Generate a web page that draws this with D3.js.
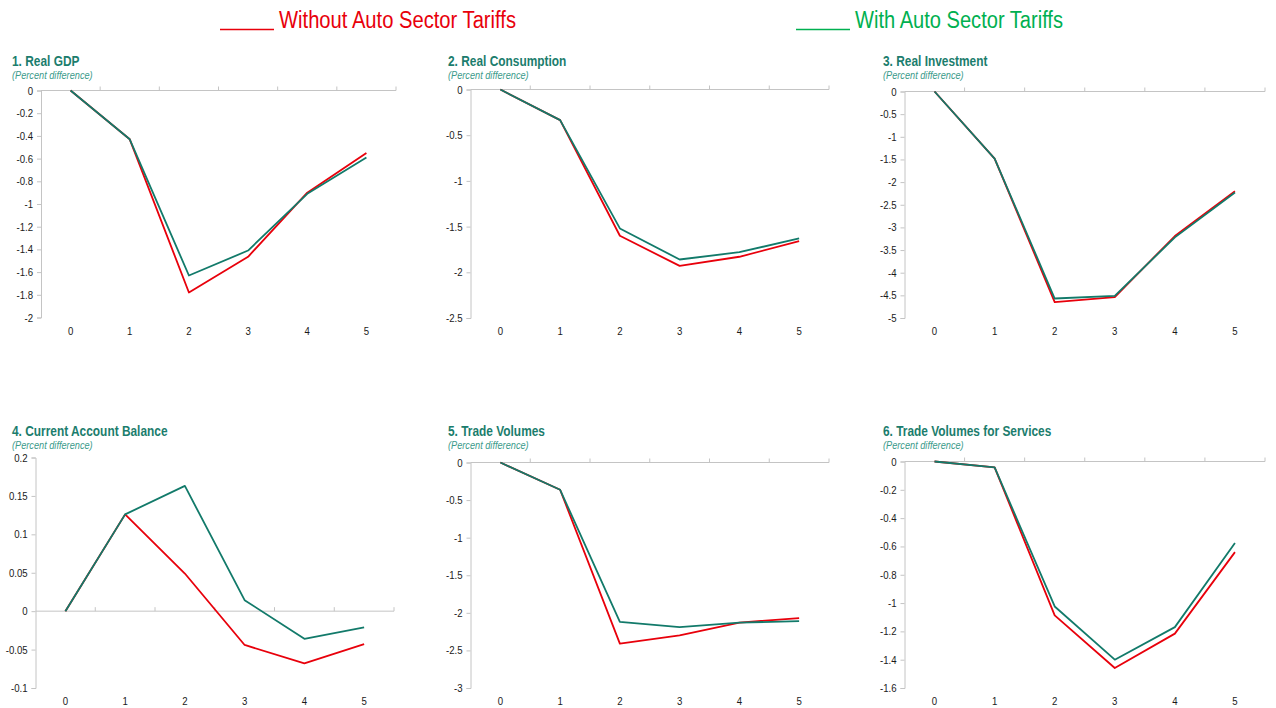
<!DOCTYPE html>
<html><head><meta charset="utf-8">
<script src="https://cdn.jsdelivr.net/npm/d3@7"></script>
<style>
body{margin:0;background:#fff;}
svg{display:block;}
text{font-family:"Liberation Sans",Arial,sans-serif;}
</style></head><body>
<svg id="chart" width="1276" height="708"></svg>
<script>
const periods = [0, 1, 2, 3, 4, 5];
const seriesNames = ["Without Auto Sector Tariffs", "With Auto Sector Tariffs"];
const panelTitles = ["1. Real GDP", "2. Real Consumption", "3. Real Investment",
  "4. Current Account Balance", "5. Trade Volumes", "6. Trade Volumes for Services"];
const subtitle = "(Percent difference)";

const gdpWithout = [0, -0.43, -1.78, -1.465, -0.90, -0.55];
const gdpWith = [0, -0.43, -1.63, -1.41, -0.91, -0.59];
const consWithout = [0, -0.335, -1.60, -1.93, -1.83, -1.66];
const consWith = [0, -0.335, -1.52, -1.86, -1.78, -1.63];
const invWithout = [0, -1.48, -4.65, -4.54, -3.19, -2.20];
const invWith = [0, -1.48, -4.57, -4.51, -3.22, -2.23];
const cabWithout = [0, 0.126, 0.049, -0.044, -0.068, -0.043];
const cabWith = [0, 0.126, 0.163, 0.0143, -0.036, -0.021];
const tradeWithout = [0, -0.363, -2.41, -2.30, -2.13, -2.07];
const tradeWith = [0, -0.363, -2.12, -2.19, -2.13, -2.11];
const servWithout = [0, -0.042, -1.087, -1.459, -1.216, -0.64];
const servWith = [0, -0.042, -1.024, -1.40, -1.17, -0.576];

const gdpTicks = [0, -0.2, -0.4, -0.6, -0.8, -1, -1.2, -1.4, -1.6, -1.8, -2];
const consTicks = [0, -0.5, -1, -1.5, -2, -2.5];
const invTicks = [0, -0.5, -1, -1.5, -2, -2.5, -3, -3.5, -4, -4.5, -5];
const cabTicks = [0.2, 0.15, 0.1, 0.05, 0, -0.05, -0.1];
const tradeTicks = [0, -0.5, -1, -1.5, -2, -2.5, -3];
const servTicks = [0, -0.2, -0.4, -0.6, -0.8, -1, -1.2, -1.4, -1.6];

const RED = "#e8000b", TEAL = "#127a6a", AXIS = "#c4c4c4";
const SX = 0.875, TSX = 0.85;

const panels = [
  {title: panelTitles[0], a: gdpWithout, b: gdpWith, ticks: gdpTicks, x0: 41, x1: 396, y0: 90.5, y1: 317.5, tx: 12, ty: 50},
  {title: panelTitles[1], a: consWithout, b: consWith, ticks: consTicks, x0: 470.5, x1: 829, y0: 89.5, y1: 318, tx: 448, ty: 50},
  {title: panelTitles[2], a: invWithout, b: invWith, ticks: invTicks, x0: 904.5, x1: 1265, y0: 91.5, y1: 318, tx: 883, ty: 50},
  {title: panelTitles[3], a: cabWithout, b: cabWith, ticks: cabTicks, x0: 35.5, x1: 394, y0: 457.5, y1: 688, tx: 12, ty: 420},
  {title: panelTitles[4], a: tradeWithout, b: tradeWith, ticks: tradeTicks, x0: 470.5, x1: 829, y0: 462.5, y1: 688, tx: 448, ty: 420},
  {title: panelTitles[5], a: servWithout, b: servWith, ticks: servTicks, x0: 904.5, x1: 1265, y0: 461.5, y1: 688, tx: 883, ty: 420}
];

const svg = d3.select("#chart");

// Legend
const legend = [
  {name: seriesNames[0], color: "#e8000b", ux: 220, uw: 54, tx: 279, tw: 237},
  {name: seriesNames[1], color: "#00b050", ux: 796, uw: 54, tx: 855, tw: 208}
];
legend.forEach(l => {
  svg.append("line").attr("x1", l.ux).attr("x2", l.ux + l.uw).attr("y1", 29.5).attr("y2", 29.5)
    .attr("stroke", l.color).attr("stroke-width", 1.3);
  svg.append("text").attr("x", l.tx).attr("y", 28)
    .attr("font-size", 23).attr("fill", l.color)
    .attr("textLength", l.tw).attr("lengthAdjust", "spacingAndGlyphs")
    .text(l.name);
});

panels.forEach(p => {
  const g = svg.append("g");
  const x = d3.scaleBand().domain(periods).range([p.x0, p.x1]);
  const ext = d3.extent(p.ticks);
  const y = d3.scaleLinear().domain([ext[1], ext[0]]).range([p.y0, p.y1]);

  g.append("text").attr("transform", `translate(${p.tx},${p.ty + 15.5}) scale(${TSX},1)`)
    .attr("font-size", 14).attr("font-weight", "bold").attr("fill", "#1b7d6d")
    .text(p.title);
  g.append("text").attr("transform", `translate(${p.tx},${p.ty + 28.5}) scale(${SX},1)`)
    .attr("font-size", 10.5).attr("font-style", "italic").attr("fill", "#3a9a8a")
    .text(subtitle);

  // y axis
  const yAxis = d3.axisLeft(y).tickValues(p.ticks).tickSize(4).tickPadding(5)
    .tickFormat(d => String(+d.toFixed(3)));
  const ya = g.append("g").attr("transform", `translate(${p.x0},0)`).call(yAxis);
  ya.select(".domain").attr("stroke", AXIS);
  ya.selectAll(".tick line").attr("stroke", AXIS);
  ya.selectAll(".tick text").attr("font-size", 11).attr("fill", "#1a1a1a")
    .attr("font-family", '"Liberation Sans",Arial,sans-serif')
    .attr("transform", `scale(${SX},1)`);

  // x axis at zero line, ticks at band edges pointing up
  const zy = y(0);
  g.append("line").attr("x1", p.x0).attr("x2", p.x1).attr("y1", zy).attr("y2", zy)
    .attr("stroke", AXIS).attr("stroke-width", 1);
  const edges = periods.map(d => x(d) + x.bandwidth());
  g.selectAll(".xt").data(edges).enter().append("line")
    .attr("x1", d => d).attr("x2", d => d).attr("y1", zy).attr("y2", zy - 4)
    .attr("stroke", AXIS);
  // x labels at bottom
  g.selectAll(".xl").data(periods).enter().append("text")
    .attr("transform", d => `translate(${x(d) + x.bandwidth() / 2},${p.y1 + 17}) scale(${SX},1)`)
    .attr("text-anchor", "middle").attr("font-size", 11).attr("fill", "#1a1a1a")
    .text(d => d);

  const line = d3.line().x((d, i) => x(periods[i]) + x.bandwidth() / 2).y(d => y(d));
  g.append("path").datum(p.a).attr("d", line).attr("fill", "none")
    .attr("stroke", RED).attr("stroke-width", 1.8).attr("stroke-linejoin", "round");
  g.append("path").datum(p.b).attr("d", line).attr("fill", "none")
    .attr("stroke", TEAL).attr("stroke-width", 1.8).attr("stroke-linejoin", "round");
});
</script>
</body></html>
